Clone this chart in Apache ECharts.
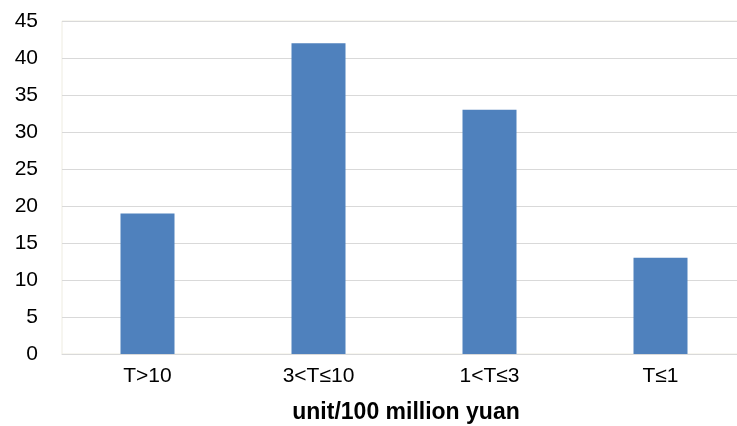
<!DOCTYPE html>
<html>
<head>
<meta charset="utf-8">
<script src="https://cdn.jsdelivr.net/npm/echarts@6/dist/echarts.min.js"></script>
<style>
  html, body { margin: 0; padding: 0; background: #ffffff; }
  #chart { width: 737px; height: 426px; }
</style>
</head>
<body>
<div id="chart"></div>
<script>
// Bond issuance distribution by size bracket
const categories = ['T>10', '3<T≤10', '1<T≤3', 'T≤1'];
const counts = [19, 42, 33, 13];
const yMin = 0;
const yMax = 45;
const yStep = 5;
const axisTitle = 'unit/100 million yuan';

const chart = echarts.init(document.getElementById('chart'), null, { renderer: 'canvas' });

const labelFont = '"Liberation Sans", Arial, sans-serif';

chart.setOption({
  animation: false,
  backgroundColor: '#ffffff',
  grid: {
    left: 62,
    top: 21,
    width: 684,
    height: 333,
    outerBoundsMode: 'none',
    containLabel: false,
    show: true,
    borderColor: '#EEECE1',
    borderWidth: 1,
    backgroundColor: 'transparent'
  },
  xAxis: {
    type: 'category',
    data: categories,
    axisLine: { show: true, lineStyle: { color: '#D9D9D9', width: 1 } },
    axisTick: { show: false },
    axisLabel: {
      color: '#000000',
      fontFamily: labelFont,
      fontSize: 21,
      margin: 12
    },
    name: axisTitle,
    nameLocation: 'middle',
    nameGap: 47,
    nameTextStyle: {
      color: '#000000',
      fontFamily: labelFont,
      fontSize: 23,
      fontWeight: 'bold',
      padding: [0, 0, 0, 4]
    }
  },
  yAxis: {
    type: 'value',
    min: yMin,
    max: yMax,
    interval: yStep,
    axisLine: { show: false },
    axisTick: { show: false },
    splitLine: { show: true, lineStyle: { color: '#D9D9D9', width: 1 } },
    axisLabel: {
      color: '#000000',
      fontFamily: labelFont,
      fontSize: 21,
      margin: 24
    }
  },
  series: [{
    type: 'bar',
    data: counts,
    barWidth: 54,
    itemStyle: { color: '#4F81BD' }
  }]
});
</script>
</body>
</html>
